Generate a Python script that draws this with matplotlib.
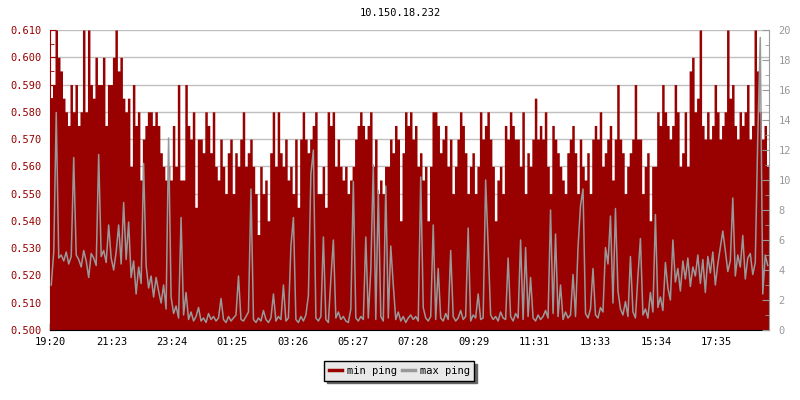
import matplotlib
matplotlib.use("Agg")
import matplotlib.pyplot as plt
from matplotlib.ticker import MultipleLocator, FormatStrFormatter
from matplotlib.lines import Line2D
import numpy as np

plt.rcParams['font.family'] = ['DejaVu Sans Mono']

title = "10.150.18.232"
step_minutes = 5
tick_labels = ["19:20", "21:23", "23:24", "01:25", "03:26", "05:27",
               "07:28", "09:29", "11:31", "13:33", "15:34", "17:35"]
tick_minutes = [0, 123, 244, 365, 486, 607, 728, 849, 971, 1093, 1214, 1335]

min_ping = [
    0.585, 0.59, 0.61, 0.60, 0.595, 0.585, 0.58, 0.575, 0.59, 0.58,
    0.59, 0.575, 0.58, 0.61, 0.58, 0.61, 0.59, 0.585, 0.60, 0.59,
    0.59, 0.60, 0.575, 0.59, 0.59, 0.60, 0.61, 0.595, 0.60, 0.585,
    0.58, 0.585, 0.56, 0.59, 0.575, 0.58, 0.555, 0.57, 0.575, 0.58,
    0.58, 0.575, 0.58, 0.575, 0.565, 0.56, 0.555, 0.56, 0.555, 0.575,
    0.56, 0.59, 0.555, 0.555, 0.59, 0.575, 0.57, 0.58,
    0.545, 0.57, 0.57, 0.565, 0.58, 0.575, 0.565, 0.58, 0.56, 0.555,
    0.57, 0.56, 0.55, 0.565, 0.57, 0.55, 0.565, 0.56, 0.57, 0.58,
    0.56, 0.565, 0.57, 0.56, 0.55, 0.535, 0.56, 0.55, 0.555, 0.54,
    0.565, 0.58, 0.56, 0.58, 0.565, 0.56, 0.57, 0.555, 0.56, 0.55,
    0.57, 0.545, 0.57, 0.58, 0.57, 0.565, 0.57, 0.575, 0.58, 0.55,
    0.55, 0.56, 0.545, 0.58, 0.575, 0.58, 0.56, 0.57,
    0.56, 0.555, 0.56, 0.55, 0.555, 0.56, 0.57, 0.575, 0.58, 0.575,
    0.57, 0.575, 0.58, 0.56, 0.57, 0.55, 0.555, 0.55, 0.56, 0.56,
    0.57, 0.565, 0.575, 0.57, 0.54, 0.565, 0.58, 0.575, 0.58, 0.57,
    0.575, 0.56, 0.565, 0.555, 0.56, 0.54, 0.56, 0.58, 0.58, 0.575,
    0.565, 0.57, 0.575, 0.56, 0.57, 0.55, 0.56, 0.57, 0.58, 0.575,
    0.565, 0.55, 0.56, 0.565, 0.55, 0.56, 0.58,
    0.57, 0.575, 0.58, 0.57, 0.56, 0.54, 0.555, 0.56, 0.55, 0.575,
    0.57, 0.58, 0.575, 0.57, 0.57, 0.56, 0.58, 0.55, 0.565, 0.56,
    0.57, 0.585, 0.57, 0.575, 0.57, 0.58, 0.56, 0.55, 0.575, 0.57,
    0.565, 0.56, 0.555, 0.55, 0.565, 0.57, 0.575, 0.565, 0.55, 0.57,
    0.56, 0.555, 0.565, 0.55, 0.57, 0.575, 0.57, 0.58, 0.56, 0.565,
    0.57, 0.575, 0.555, 0.57, 0.59, 0.57, 0.565, 0.55,
    0.56, 0.565, 0.57, 0.59, 0.57, 0.57, 0.55, 0.56, 0.565, 0.54,
    0.56, 0.56, 0.58, 0.575, 0.59, 0.58, 0.575, 0.57, 0.575, 0.59,
    0.58, 0.56, 0.565, 0.58, 0.56, 0.595, 0.60, 0.58, 0.585, 0.61,
    0.575, 0.57, 0.58, 0.57, 0.575, 0.59, 0.58, 0.57, 0.575, 0.58,
    0.61, 0.585, 0.59, 0.575, 0.57, 0.58, 0.575, 0.58, 0.59, 0.57,
    0.575, 0.61, 0.595, 0.58, 0.57, 0.575, 0.56,
]

max_ping = [
    3.0, 5.2, 14.5, 4.8, 5.0, 4.6, 5.2, 4.4, 4.9, 11.5,
    5.0, 4.7, 4.2, 5.3, 4.6, 3.5, 5.1, 4.8, 4.3, 11.7,
    4.9, 5.3, 4.5, 7.0, 4.8, 4.0, 5.2, 7.0, 4.4, 8.5,
    4.7, 7.2, 3.5, 4.6, 2.4, 4.2, 3.1, 11.1, 4.3, 2.8,
    3.6, 2.2, 3.5, 2.6, 1.8, 3.0, 1.4, 12.8, 2.2, 1.1,
    1.6, 0.8, 7.5, 1.0, 2.5, 0.7, 1.2, 0.6,
    0.9, 1.5, 0.6, 0.8, 0.5, 1.1, 0.7, 0.9, 0.6, 0.8,
    2.1, 0.7, 0.5, 0.9, 0.6, 0.8, 1.0, 3.6, 0.7, 0.6,
    0.9, 1.2, 9.4, 0.7, 0.5, 0.8, 0.6, 1.3, 0.7, 0.5,
    0.8, 2.4, 0.6, 0.9, 0.7, 3.0, 0.6, 0.8, 5.6, 7.5,
    0.7, 0.5, 0.9, 0.6, 1.0, 2.3, 10.4, 12.0, 0.8, 0.6,
    0.9, 6.2, 0.7, 0.5, 3.4, 6.0, 0.8, 1.2,
    0.7, 0.9, 0.6, 0.5, 1.4, 9.9, 0.8, 0.6, 0.9, 0.7,
    6.2, 0.8, 4.0, 11.0, 0.7, 9.3, 0.9, 0.6, 9.6, 0.8,
    5.6, 3.0, 0.7, 1.2, 0.6, 0.9, 0.5, 0.8, 1.0, 0.7,
    0.9, 0.6, 10.2, 1.5, 0.8, 0.6, 0.9, 7.0, 0.7, 4.1,
    0.8, 0.6, 1.1, 0.7, 5.3, 0.9, 0.6, 0.8, 1.3, 0.7,
    0.9, 6.8, 0.6, 1.0, 0.8, 2.4, 0.7,
    0.8, 10.0, 5.6, 1.0, 0.7, 0.9, 0.6, 1.2, 0.8, 0.7,
    4.8, 0.9, 0.6, 1.1, 0.8, 6.0, 0.7, 5.5, 0.9, 3.5,
    0.8, 0.6, 1.0, 0.7, 0.9, 1.3, 0.8, 8.0, 1.1, 6.4,
    0.9, 3.0, 0.7, 1.2, 0.8, 1.0, 3.7, 0.9, 5.5, 8.3,
    9.4, 1.1, 0.8, 1.4, 4.1, 1.0, 0.8, 1.5, 1.2, 5.5,
    4.4, 7.6, 1.8, 8.1, 2.6, 1.4, 1.0, 1.9,
    0.9, 4.9, 1.2, 0.8, 3.6, 6.1, 1.0, 1.4, 0.8, 2.5,
    1.2, 7.7, 1.5, 2.2, 1.3, 4.5, 2.8, 2.0, 6.0, 3.2,
    4.1, 2.6, 4.6, 3.4, 4.8, 2.9, 4.2, 3.6, 5.0, 3.1,
    4.7, 2.5, 4.9, 3.8, 5.2, 3.0, 4.4, 5.5, 6.6, 5.3,
    3.9, 4.6, 8.8, 3.6, 5.0, 4.2, 6.3, 3.4, 4.8, 5.1,
    3.7, 4.5, 12.8, 19.5, 2.4, 5.0, 4.3,
]

RED = "#990000"
GREY = "#999999"

n = len(min_ping)
x = np.arange(n + 1) * step_minutes
y_min = np.append(min_ping, min_ping[-1])
x_mid = (np.arange(n) + 0.5) * step_minutes

fig = plt.figure(figsize=(8, 4), dpi=100)
ax = fig.add_axes([50 / 800, 70 / 400, 719 / 800, 300 / 400])
ax.fill_between(x, 0.5, y_min, step="post", color=RED, lw=0, zorder=2)
ax.set_xlim(0, n * step_minutes)
ax.set_ylim(0.5, 0.61)
ax.yaxis.set_major_locator(MultipleLocator(0.01))
ax.yaxis.set_minor_locator(MultipleLocator(0.005))
ax.yaxis.set_major_formatter(FormatStrFormatter("%.3f"))
ax.set_axisbelow(True)
ax.grid(axis="y", color="#c0c0c0", lw=1)
ax.set_xticks(tick_minutes)
ax.set_xticklabels(tick_labels)
ax.tick_params(axis="x", direction="in", length=5, width=1, color="black",
               labelsize=7.5, pad=5, labelcolor="black")
ax.tick_params(axis="y", which="major", direction="in", length=4, color=RED,
               labelcolor=RED, labelsize=7.5, pad=6)
ax.tick_params(axis="y", which="minor", direction="in", length=3, color=RED)
ax.spines["top"].set_visible(False)
ax.spines["right"].set_visible(False)
ax.spines["left"].set_color(RED)
ax.spines["bottom"].set_color("black")

ax2 = ax.twinx()
ax2.plot(x_mid, max_ping, color=GREY, lw=1.1, zorder=3)
ax2.set_ylim(0, 20)
ax2.yaxis.set_major_locator(MultipleLocator(2))
ax2.yaxis.set_minor_locator(MultipleLocator(1))
ax2.tick_params(axis="y", which="major", direction="in", length=5, color=GREY,
                labelcolor=GREY, labelsize=7.5, pad=7)
ax2.tick_params(axis="y", which="minor", direction="in", length=3, color=GREY)
for s in ["top", "left", "bottom"]:
    ax2.spines[s].set_visible(False)
ax2.spines["right"].set_color(GREY)

fig.text(0.5, 1 - 13 / 400, title, ha="center", va="center", fontsize=7.5)

handles = [Line2D([], [], color=RED, lw=2.5), Line2D([], [], color=GREY, lw=2.5)]
leg = fig.legend(handles, ["min ping", "max ping"], loc="center",
                 bbox_to_anchor=(0.499, 1 - 371 / 400), ncol=2, fontsize=7.5,
                 frameon=True, fancybox=False,
                 shadow={"color": "#666666", "alpha": 1},
                 handlelength=1.3, handletextpad=0.4, columnspacing=0.5,
                 borderpad=0.45, borderaxespad=0)
leg.get_frame().set_facecolor("#e8e8e8")
leg.get_frame().set_edgecolor("black")
leg.get_frame().set_linewidth(1)
leg.get_frame().set_alpha(1)

fig.savefig("out.png", dpi=100)
